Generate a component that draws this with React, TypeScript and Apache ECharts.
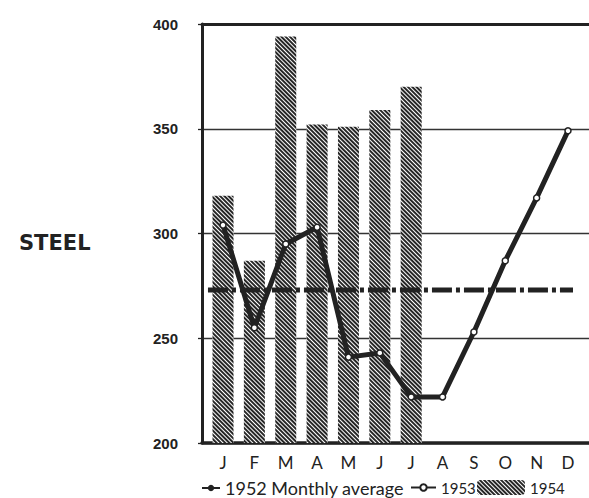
import React, { useEffect, useRef } from "react";
import * as echarts from "echarts";

const months = ["J", "F", "M", "A", "M", "J", "J", "A", "S", "O", "N", "D"];
const yTicks = [200, 250, 300, 350, 400];
const steel1954 = [318, 287, 394, 352, 351, 359, 370];
const steel1953 = [304, 255, 295, 303, 241, 243, 222, 222, 253, 287, 317, 349];
const avg1952 = 273;
const avgSpan = [-0.48, 11.16];

const INK = "#222";

export default function App() {
  const ref = useRef<HTMLDivElement>(null);
  useEffect(() => {
    if (!ref.current) return;
    const chart = echarts.init(ref.current, null, { renderer: "svg" });
    const monthIdx = months.map((_, i) => i);
    chart.setOption({
      animation: false,
      backgroundColor: "#fff",
      title: {
        text: "STEEL",
        left: 14,
        top: 227,
        textStyle: { fontSize: 21, fontWeight: "bold", fontFamily: "DejaVu Sans", color: INK },
      },
      grid: { left: 202, right: 0, top: 24, bottom: 55 },
      xAxis: [
        {
          type: "value",
          min: -0.67,
          max: 11.67,
          splitLine: { show: false },
          axisTick: { show: false },
          axisLine: { show: true, onZero: false, lineStyle: { color: INK, width: 3.5 } },
          axisLabel: {
            customValues: monthIdx,
            formatter: (v: number) => months[Math.round(v)] ?? "",
            fontSize: 17,
            fontFamily: "Lato",
            color: INK,
            margin: 11,
          },
        },
        {
          type: "value",
          position: "top",
          min: -0.67,
          max: 11.67,
          splitLine: { show: false },
          axisTick: { show: false },
          axisLabel: { show: false },
          axisLine: { show: true, onZero: false, lineStyle: { color: INK, width: 3 } },
        },
      ],
      yAxis: {
        type: "value",
        min: 200,
        max: 400,
        interval: 50,
        axisLine: { show: true, onZero: false, lineStyle: { color: INK, width: 3 } },
        axisTick: { show: true, length: 4, lineStyle: { color: INK, width: 1.3 } },
        splitLine: { show: true, lineStyle: { color: "#333", width: 1.3 } },
        axisLabel: {
          customValues: yTicks,
          fontSize: 15,
          fontWeight: "bold",
          fontFamily: "Liberation Sans",
          color: INK,
          margin: 24,
          padding: [0, 0, 6, 0],
        },
      },
      legend: [
        {
          data: ["1952 Monthly average"],
          left: 201,
          top: 479,
          padding: 0,
          itemWidth: 18,
          itemHeight: 8,
          textStyle: { fontSize: 18, fontFamily: "Lato", color: INK },
        },
        {
          data: ["1953"],
          left: 410,
          top: 480,
          padding: 0,
          itemWidth: 25,
          itemHeight: 8,
          textStyle: { fontSize: 15, fontFamily: "Lato", color: INK },
        },
        {
          data: ["1954"],
          left: 477,
          top: 480,
          padding: 0,
          itemWidth: 48,
          itemHeight: 15,
          textStyle: { fontSize: 15, fontFamily: "Lato", color: INK },
        },
      ],
      series: [
        {
          name: "1954",
          type: "bar",
          barWidth: 21,
          z: 2,
          data: steel1954.map((v, i) => [i, v]),
          itemStyle: {
            color: "#fff",
            decal: {
              symbol: "rect",
              symbolSize: 1,
              color: "#262626",
              backgroundColor: "#fff",
              dashArrayX: [1, 0],
              dashArrayY: [1.6, 1],
              rotation: Math.PI / 4,
            },
          },
        },
        {
          name: "1953",
          type: "line",
          z: 3,
          data: steel1953.map((v, i) => [i, v]),
          symbol: "circle",
          symbolSize: 6,
          showSymbol: true,
          lineStyle: { color: INK, width: 5 },
          itemStyle: { color: "#fff", borderColor: INK, borderWidth: 1.5 },
        },
        {
          name: "1952 Monthly average",
          type: "line",
          z: 4,
          data: avgSpan.map((x) => [x, avg1952]),
          symbol: "none",
          lineStyle: { color: INK, width: 5, type: [20, 4, 4, 4] },
          itemStyle: { color: INK },
        },
      ],
    });
    return () => chart.dispose();
  }, []);
  return <div ref={ref} style={{ width: 589, height: 498, position: "absolute", left: 0, top: 0 }} />;
}
